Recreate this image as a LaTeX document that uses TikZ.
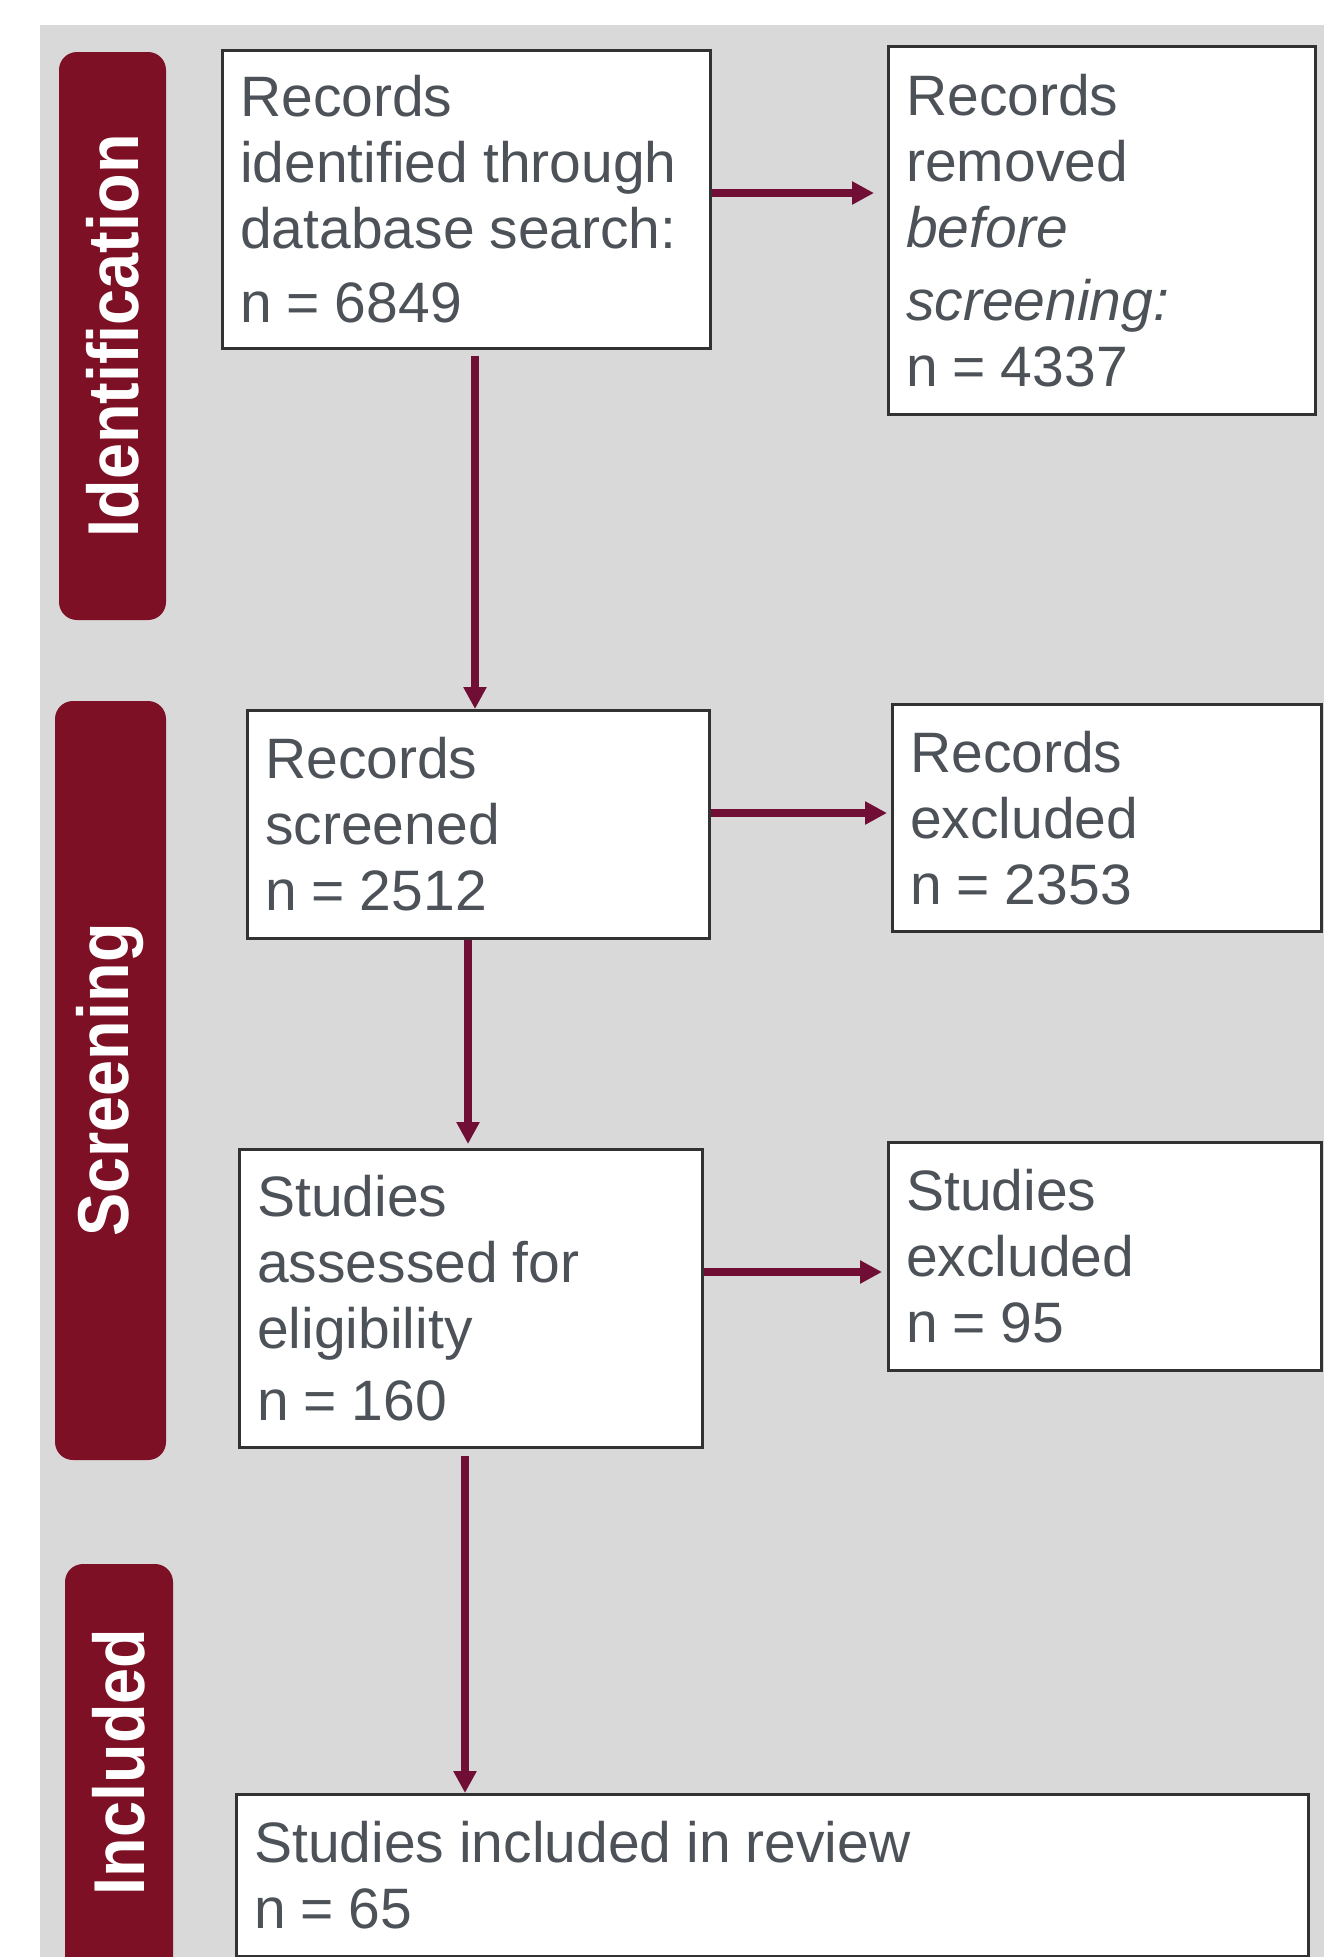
\documentclass[tikz,border=0pt]{standalone}
\usepackage{fontspec}
\setmainfont{Liberation Sans}
\usepackage{graphicx}
\usetikzlibrary{arrows.meta}
\definecolor{bgc}{HTML}{D9D9D9}
\definecolor{bandc}{RGB}{125,16,36}
\definecolor{arrowc}{RGB}{112,14,54}
\definecolor{txtc}{RGB}{77,82,88}
\definecolor{boxline}{RGB}{50,50,50}
\newcommand\tightspaces{\spaceskip=14.9pt\relax}
\begin{document}
\begin{tikzpicture}[x=1pt,y=-1pt,
  boxnode/.style={draw=boxline, line width=2.5pt, fill=white, anchor=north west,
    align=left, inner xsep=18pt, inner ysep=0pt, text=txtc,
    font=\fontsize{57}{66}\selectfont, execute at begin node=\tightspaces},
  bandbox/.style={fill=bandc, rounded corners=18pt},
  bandlabel/.style={rotate=90, text=white, inner sep=0pt,
    font=\bfseries\fontsize{72}{72}\selectfont},
  arr/.style={draw=arrowc, line width=7.5pt, -{Triangle[length=22pt,width=22pt]}}]
\useasboundingbox (0,0) rectangle (1343,1957);
\begin{scope}
\clip (0,0) rectangle (1343,1957);
\fill[white] (0,0) rectangle (1343,1957);
\fill[bgc] (40,25) rectangle (1324,1970);
% phase bands
\fill[bandbox] (59,52) rectangle (166,620);
\fill[bandbox] (55,701) rectangle (166,1460);
\fill[bandbox] (65,1564) rectangle (173,2000);
\node[bandlabel] (lid) at (112.5,336) {\scalebox{0.9}[1]{Identification}};
\node[bandlabel] (lsc) at (110.5,1080) {\scalebox{0.9}[1]{Screening}};
\node[bandlabel] (lin) at (119,1762) {\scalebox{0.9}[1]{Included}};
% boxes
\node[boxnode, text width=452pt, minimum height=298pt] (b1) at (221,49)
  {Records\\identified through\\database search:\\[8pt]n = 6849};
\node[boxnode, text width=391pt, minimum height=368pt] (b2) at (887,45)
  {Records\\removed\\\textit{before}\\[7pt]\textit{screening:}\\n = 4337};
\node[boxnode, text width=426pt, minimum height=228pt] (b3) at (246,709)
  {Records\\screened\\n = 2512};
\node[boxnode, text width=393pt, minimum height=227pt] (b4) at (891,703)
  {Records\\excluded\\n = 2353};
\node[boxnode, text width=427pt, minimum height=298pt] (b5) at (238,1148)
  {Studies\\assessed for\\eligibility\\[6pt]n = 160};
\node[boxnode, text width=397pt, minimum height=228pt] (b6) at (887,1141)
  {Studies\\excluded\\n = 95};
\node[boxnode, text width=1036pt, minimum height=162pt] (b7) at (235,1793)
  {Studies included in review\\n = 65};
% connector guides
\coordinate (h1) at (0,193);
\coordinate (h2) at (0,813);
\coordinate (h3) at (0,1272);
\coordinate (v1) at (475,0);
\coordinate (v2) at (468,0);
\coordinate (v3) at (465,0);
% connectors
\draw[arr, shorten >=13pt] (b1.east |- h1) -- (b2.west |- h1);
\draw[arr, shorten <=6pt] (b1.south -| v1) -- (b3.north -| v1);
\draw[arr, shorten >=4pt] (b3.east |- h2) -- (b4.west |- h2);
\draw[arr, shorten >=4pt] (b3.south -| v2) -- (b5.north -| v2);
\draw[arr, shorten >=5pt] (b5.east |- h3) -- (b6.west |- h3);
\draw[arr, shorten <=7pt] (b5.south -| v3) -- (b7.north -| v3);
\end{scope}
\end{tikzpicture}
\end{document}
